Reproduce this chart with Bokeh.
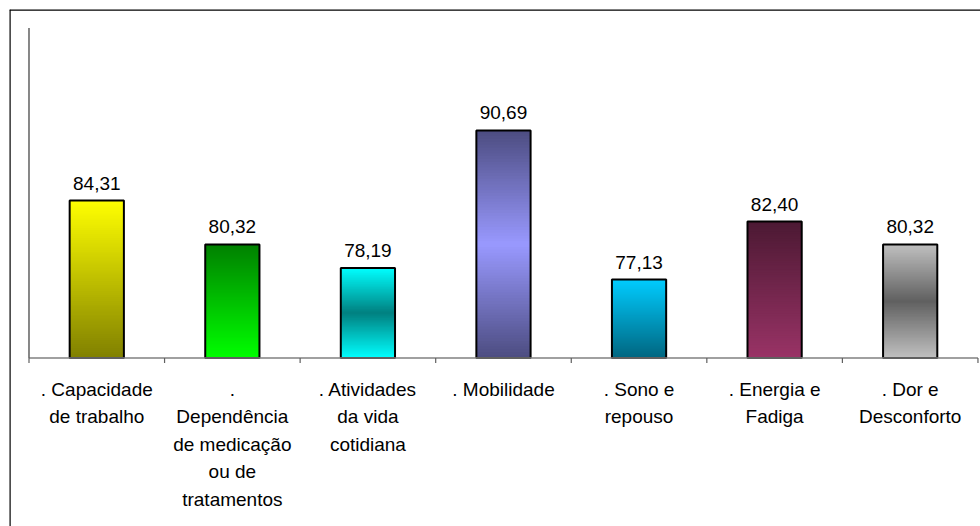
from bokeh.plotting import figure
from bokeh.models import ColumnDataSource, Range1d
from bokeh.embed import file_html
from bokeh.resources import INLINE
from bokeh.core.properties import value

# ---------------- data ----------------
categories = [
    ". Capacidade de trabalho",
    ". Dependência de medicação ou de tratamentos",
    ". Atividades da vida cotidiana",
    ". Mobilidade",
    ". Sono e repouso",
    ". Energia e Fadiga",
    ". Dor e Desconforto",
]
tick_labels = [
    ". Capacidade\nde trabalho",
    ".\nDependência\nde medicação\nou de\ntratamentos",
    ". Atividades\nda vida\ncotidiana",
    ". Mobilidade",
    ". Sono e\nrepouso",
    ". Energia e\nFadiga",
    ". Dor e\nDesconforto",
]
values = [84.31, 80.32, 78.19, 90.69, 77.13, 82.40, 80.32]
axis_min = 70
axis_max = 100

# ---------------- styles ----------------
gradients = [
    [(0.0, "#FFFF00"), (1.0, "#808000")],
    [(0.0, "#008000"), (1.0, "#00FF00")],
    [(0.0, "#00FFFF"), (0.5, "#008080"), (1.0, "#00FFFF")],
    [(0.0, "#4C4C80"), (0.5, "#9999FF"), (1.0, "#4C4C80")],
    [(0.0, "#00CCFF"), (1.0, "#006680")],
    [(0.0, "#4C1933"), (1.0, "#993366")],
    [(0.0, "#C0C0C0"), (0.5, "#606060"), (1.0, "#C0C0C0")],
]
FONT = "Liberation Sans"
FONT_SIZE = "19px"
W, H = 980, 526
BORDER_L, BORDER_T = 9, 9
BAR_W = 0.4
N_SLICES = 80


def hex_rgb(h):
    h = h.lstrip("#")
    return tuple(int(h[i:i + 2], 16) for i in (0, 2, 4))


def grad_color(stops, t):
    for (t0, c0), (t1, c1) in zip(stops[:-1], stops[1:]):
        if t0 <= t <= t1:
            f = 0 if t1 == t0 else (t - t0) / (t1 - t0)
            a, b = hex_rgb(c0), hex_rgb(c1)
            r = [round(a[i] + (b[i] - a[i]) * f) for i in range(3)]
            return "#%02x%02x%02x" % tuple(r)
    return stops[-1][1]


# ---------------- figure ----------------
frame_w = W - BORDER_L
frame_h = H - BORDER_T
y_start, y_end = 54.68, 101.68
x_start, x_end = -0.1438, 7.0187
px_per_y = frame_h / (y_end - y_start)

p = figure(
    width=W, height=H,
    x_range=Range1d(x_start, x_end), y_range=Range1d(y_start, y_end),
    x_axis_location=None, y_axis_location=None,
    toolbar_location=None, output_backend="svg",
    min_border_left=BORDER_L, min_border_top=BORDER_T,
    min_border_right=0, min_border_bottom=0,
)
p.grid.visible = False
p.outline_line_color = None
p.background_fill_color = "white"
p.border_fill_color = "white"

# chart-area border: only top and left edges are visible in the crop
p.segment(x0=[x_start, x_start], y0=[y_end, y_start], x1=[x_end, x_start], y1=[y_end, y_end],
          line_color="#000000", line_width=2.4)

xs = [i + 0.5 for i in range(len(categories))]

# gradient bars (stacked overlapping slices, tallest first)
gl, gr, gb, gt, gc = [], [], [], [], []
for i, v in enumerate(values):
    h = v - axis_min
    for k in range(N_SLICES):
        t = (k + 0.5) / N_SLICES
        gl.append(xs[i] - BAR_W / 2)
        gr.append(xs[i] + BAR_W / 2)
        gb.append(axis_min)
        gt.append(v - h * k / N_SLICES)
        gc.append(grad_color(gradients[i], t))
p.quad(left=gl, right=gr, bottom=gb, top=gt, fill_color=gc, line_color=None)

# bar outlines
src = ColumnDataSource(dict(
    x=xs, top=values, cat=categories,
    lab=[f"{v:.2f}".replace(".", ",") for v in values],
))
p.vbar(x="x", top="top", bottom=axis_min, width=BAR_W, source=src,
       fill_color=None, line_color="#000000", line_width=2)

# axes lines
tick_len = 5 / px_per_y
p.segment(x0=[0], y0=[axis_min], x1=[len(categories)], y1=[axis_min],
          line_color="#808080", line_width=1.5)
p.segment(x0=[0], y0=[axis_min], x1=[0], y1=[axis_max],
          line_color="#606060", line_width=1.5)
tx = list(range(len(categories) + 1))
p.segment(x0=tx, y0=[axis_min] * len(tx), x1=tx, y1=[axis_min - tick_len] * len(tx),
          line_color="#606060", line_width=1.2)

# value labels
p.text(x="x", y="top", text="lab", source=src, text_align="center",
       text_baseline="alphabetic", y_offset=-17.5,
       text_font=value(FONT), text_font_size=FONT_SIZE, text_color="#000000")

# category labels, one line per row
lx, ly, lt, lo = [], [], [], []
for i, lab in enumerate(tick_labels):
    for j, line in enumerate(lab.split("\n")):
        lx.append(xs[i])
        ly.append(axis_min)
        lt.append(line)
        lo.append(31.5 + 27.5 * j)
p.text(x=lx, y=ly, text=lt, y_offset=lo, text_align="center",
       text_baseline="alphabetic", text_font=value(FONT),
       text_font_size=FONT_SIZE, text_color="#000000")

open("out.html", "w").write(file_html(p, INLINE))
